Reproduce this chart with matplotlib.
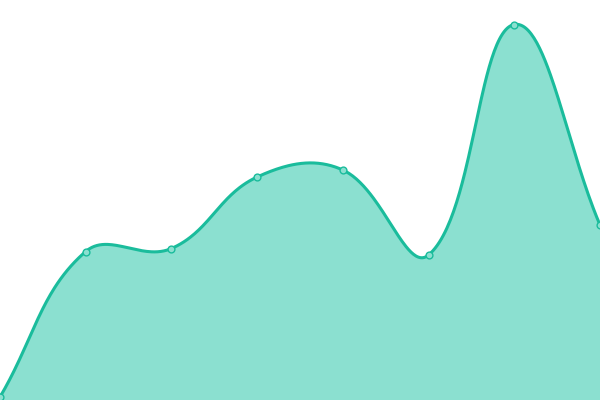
import numpy as np
import matplotlib
matplotlib.use("Agg")
import matplotlib.pyplot as plt

# data
labels = ["A", "B", "C", "D", "E", "F", "G", "H"]
values = [3, 148.5, 151.5, 223, 230, 145, 375.5, 175]

LINE = "#1abc9c"
FILL = "#8be0d0"

fig = plt.figure(figsize=(6, 4), dpi=100)
ax = fig.add_axes([0, 0, 1, 1])
ax.set_xlim(0, len(values) - 1)
ax.set_ylim(0, 400)
ax.axis("off")

# Chart.js-like spline (tension 0.4) computed in pixel space
xs = np.arange(len(values), dtype=float)
pts = ax.transData.transform(np.column_stack([xs, values]))
t = 0.4
n = len(pts)
cps = []
for i in range(n):
    prev = pts[max(i - 1, 0)]
    cur = pts[i]
    nxt = pts[min(i + 1, n - 1)]
    d01 = np.hypot(*(cur - prev))
    d12 = np.hypot(*(nxt - cur))
    s = d01 + d12
    fa = t * d01 / s if s else 0
    fb = t * d12 / s if s else 0
    cp1 = cur - fa * (nxt - prev)
    cp2 = cur + fb * (nxt - prev)
    cps.append((cp1, cp2))

curve = []
tt = np.linspace(0, 1, 60)[:, None]
for i in range(n - 1):
    p0 = pts[i]
    p1 = cps[i][1]
    p2 = cps[i + 1][0]
    p3 = pts[i + 1]
    seg = ((1 - tt) ** 3) * p0 + 3 * ((1 - tt) ** 2) * tt * p1 + 3 * (1 - tt) * tt ** 2 * p2 + tt ** 3 * p3
    curve.append(seg if i == 0 else seg[1:])
curve = np.vstack(curve)
data_curve = ax.transData.inverted().transform(curve)

ax.fill_between(data_curve[:, 0], data_curve[:, 1], 0, color=FILL, lw=0, zorder=1)
ax.plot(data_curve[:, 0], data_curve[:, 1], color=LINE, lw=2.2, zorder=2, solid_capstyle="round")
ax.scatter(xs, values, s=24, facecolor=FILL, edgecolor=LINE, linewidth=1.0, zorder=3, clip_on=True)

fig.savefig("out.png", dpi=100)
